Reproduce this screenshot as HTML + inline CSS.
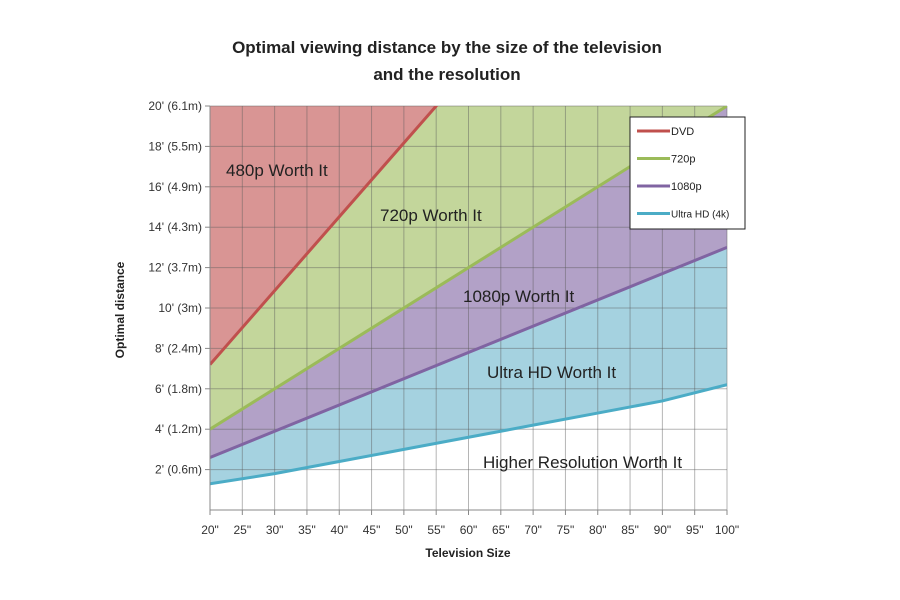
<!DOCTYPE html>
<html><head><meta charset="utf-8"><style>
body{margin:0;background:#fff}
svg{display:block;font-family:"Liberation Sans",sans-serif}
</style></head><body>
<svg id="c" width="900" height="600">
<text x="447" y="53" text-anchor="middle" font-size="17" font-weight="bold" fill="#222">Optimal viewing distance by the size of the television</text>
<text x="447" y="80" text-anchor="middle" font-size="17" font-weight="bold" fill="#222">and the resolution</text>
<g id="areas"></g><g id="grid"></g><g id="lines"></g><g id="axes"></g>
<text transform="translate(124,310) rotate(-90)" text-anchor="middle" font-size="12" font-weight="bold" fill="#222">Optimal distance</text>
<text x="468" y="557" text-anchor="middle" font-size="12" font-weight="bold" fill="#222">Television Size</text>
<text x="226" y="176" font-size="17" fill="#222">480p Worth It</text>
<text x="380" y="221" font-size="17" fill="#222">720p Worth It</text>
<text x="463" y="302" font-size="17" fill="#222">1080p Worth It</text>
<text x="487" y="378" font-size="17" fill="#222">Ultra HD Worth It</text>
<text x="483" y="468" font-size="17" fill="#222">Higher Resolution Worth It</text>
<g id="legend"></g>
</svg>
<script>
const xTicks=[20,25,30,35,40,45,50,55,60,65,70,75,80,85,90,95,100];
const yTicks=[2,4,6,8,10,12,14,16,18,20];
const yLabels=["2' (0.6m)","4' (1.2m)","6' (1.8m)","8' (2.4m)","10' (3m)","12' (3.7m)","14' (4.3m)","16' (4.9m)","18' (5.5m)","20' (6.1m)"];
const seriesNames=["DVD","720p","1080p","Ultra HD (4k)"];
const dvdSize=[20,55];
const dvdDist=[7.2,20];
const p720Size=[20,100];
const p720Dist=[4,20];
const p1080Size=[20,100];
const p1080Dist=[2.6,13];
const uhdSize=[20,30,40,50,60,70,80,90,100];
const uhdDist=[1.3,1.8,2.4,3.0,3.6,4.2,4.8,5.4,6.2];
const colors=["#c0504d","#9bbb59","#8064a2","#4bacc6"];
const fills=["#d99594","#c3d69b","#b2a1c7","#a5d2e0"];
const X=v=>210+(v-20)*(727-210)/80;
const Y=v=>510-v*(510-106)/20;
const NS="http://www.w3.org/2000/svg";
function mk(t,a,p){const e=document.createElementNS(NS,t);for(const k in a)e.setAttribute(k,a[k]);p.appendChild(e);return e;}
const svg=document.getElementById('c');
const areas=document.getElementById('areas'),grid=document.getElementById('grid'),lines=document.getElementById('lines'),axes=document.getElementById('axes');
const x0=X(20),x1=X(100),yT=Y(20),yB=Y(0);
mk('defs',{},svg).innerHTML='<clipPath id="cp"><rect x="'+x0+'" y="'+yT+'" width="'+(x1-x0)+'" height="'+(yB-yT)+'"/></clipPath>';
areas.setAttribute('clip-path','url(#cp)');lines.setAttribute('clip-path','url(#cp)');
function pts(s,d){return s.map((v,i)=>X(v)+','+Y(d[i])).join(' ');}
function ext(s,d){const n=s.length;const sl=(d[n-1]-d[n-2])/(s[n-1]-s[n-2]);const S=s.slice(),D=d.slice();if(s[n-1]<100){S.push(100);D.push(d[n-1]+sl*(100-s[n-1]));}return [S,D];}
const series=[[dvdSize,dvdDist],[p720Size,p720Dist],[p1080Size,p1080Dist],[uhdSize,uhdDist]];
// background red
let r=mk('rect',{x:x0,y:yT,width:x1-x0,height:yB-yT,fill:fills[0]},areas);

series.forEach((s,i)=>{const [S,D]=ext(s[0],s[1]);
 const p=mk('polygon',{points:pts(S,D)+' '+X(100)+','+(yB+5)+' '+X(20)+','+(yB+5),fill:i<3?fills[i+1]:'#ffffff'},areas);
 
 });
xTicks.forEach(v=>{const l=mk('line',{x1:X(v),x2:X(v),y1:yT,y2:yB,stroke:'rgba(90,90,90,0.45)','stroke-width':1},grid);
 
 const t=mk('text',{x:X(v),y:534,'text-anchor':'middle','font-size':12,fill:'#333'},axes);t.textContent=v+'"';
 
 mk('line',{x1:X(v),x2:X(v),y1:yB,y2:yB+5,stroke:'#888'},axes);});
yTicks.forEach((v,i)=>{const l=mk('line',{x1:x0,x2:x1,y1:Y(v),y2:Y(v),stroke:'rgba(90,90,90,0.45)','stroke-width':1},grid);
 
 const t=mk('text',{x:x0-8,y:Y(v)+4,'text-anchor':'end','font-size':12,fill:'#333'},axes);t.textContent=yLabels[i];
 
 mk('line',{x1:x0-5,x2:x0,y1:Y(v),y2:Y(v),stroke:'#888'},axes);});
mk('line',{x1:x0,x2:x0,y1:yT,y2:yB,stroke:'#888'},axes);
mk('line',{x1:x0,x2:x1,y1:yB,y2:yB,stroke:'#888'},axes);
series.forEach((s,i)=>{const [S,D]=ext(s[0],s[1]);
 const p=mk('polyline',{points:pts(S,D),fill:'none',stroke:colors[i],'stroke-width':3},lines);
 
 });
const lg=document.getElementById('legend');
mk('rect',{x:630,y:117,width:115,height:112,fill:'#fff',stroke:'#222'},lg);
seriesNames.forEach((n,i)=>{const y=131+i*27.5;
 mk('line',{x1:637,x2:670,y1:y,y2:y,stroke:colors[i],'stroke-width':3},lg);
 const t=mk('text',{x:671,y:y+4,'font-size':i==3?10:11,fill:'#222'},lg);t.textContent=n;
 });
</script>
</body></html>
